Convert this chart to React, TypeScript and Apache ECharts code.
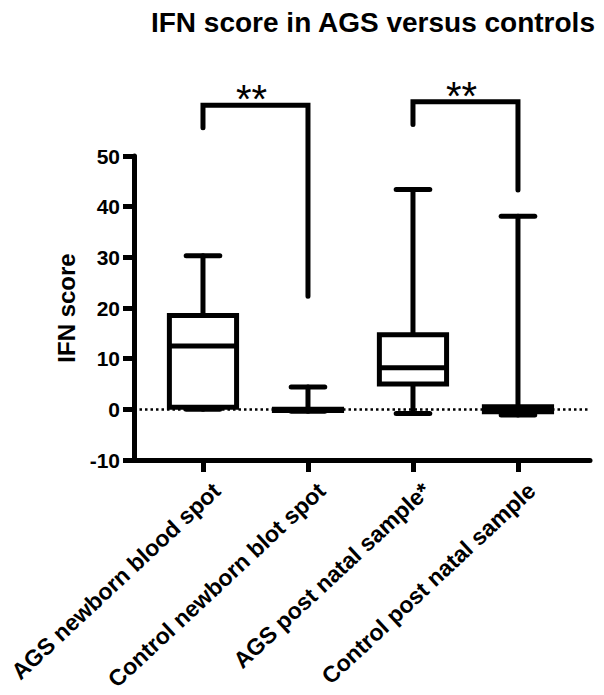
import React, { useEffect, useRef } from "react";
import * as echarts from "echarts";

const categories = [
  "AGS newborn blood spot",
  "Control newborn blot spot",
  "AGS post natal sample*",
  "Control post natal sample",
];
const boxMin = [0, -0.4, -0.8, -1.1];
const boxQ1 = [0.4, -0.25, 5.0, -0.5];
const boxMedian = [12.5, -0.1, 8.2, 0];
const boxQ3 = [18.5, 0, 14.7, 0.5];
const boxMax = [30.3, 4.4, 43.4, 38.1];

const yTicks = [-10, 0, 10, 20, 30, 40, 50];

const bracketFrom = [0, 2];
const bracketTo = [1, 3];
const bracketTop = [60, 60.7];
const bracketLeftEnd = [55.6, 56.2];
const bracketRightEnd = [22.3, 43.3];
const bracketLabel = ["**", "**"];

const FONT = "'Liberation Sans', Arial, sans-serif";
const BOX_W = 0.64;
const CAP_W = 0.32;
const LW = 5;
const LABEL_SHIFT = 0.13;

export default function App() {
  const ref = useRef<HTMLDivElement>(null);
  useEffect(() => {
    if (!ref.current) return;
    const chart = echarts.init(ref.current, null, { renderer: "svg" });
    const boxData = categories.map((_, i) => [
      i,
      boxMin[i],
      boxQ1[i],
      boxMedian[i],
      boxQ3[i],
      boxMax[i],
    ]);
    const bracketData = bracketFrom.map((f, i) => [
      f,
      bracketTo[i],
      bracketTop[i],
      bracketLeftEnd[i],
      bracketRightEnd[i],
    ]);
    const labelValues = categories.map((_, i) => i + LABEL_SHIFT);
    const option: any = {
      animation: false,
      backgroundColor: "#ffffff",
      title: {
        text: "IFN score in AGS versus controls",
        right: 3,
        top: 3,
        textStyle: {
          fontFamily: FONT,
          fontWeight: "bold",
          fontSize: 28,
          color: "#000",
        },
      },
      grid: {
        left: 134,
        right: 14,
        top: 156,
        bottom: 235,
        containLabel: false,
        outerBoundsMode: "none",
      },
      xAxis: {
        type: "value",
        min: -0.657,
        max: 3.686,
        splitLine: { show: false },
        axisLine: { show: true, onZero: false, lineStyle: { color: "#000", width: LW } },
        axisTick: {
          show: true,
          customValues: [0, 1, 2, 3],
          length: 12,
          lineStyle: { color: "#000", width: LW },
        },
        axisLabel: {
          customValues: labelValues,
          formatter: (v: number) => categories[Math.round(v - LABEL_SHIFT)] ?? "",
          rotate: 43,
          margin: 27,
          color: "#000",
          fontFamily: FONT,
          fontWeight: "bold",
          fontSize: 23,
        },
      },
      yAxis: {
        type: "value",
        min: yTicks[0],
        max: yTicks[yTicks.length - 1],
        interval: 10,
        name: "IFN score",
        nameLocation: "middle",
        nameGap: 56,
        nameTextStyle: {
          fontFamily: FONT,
          fontWeight: "bold",
          fontSize: 24,
          color: "#000",
        },
        splitLine: { show: false },
        axisLine: { show: true, onZero: false, lineStyle: { color: "#000", width: LW } },
        axisTick: { show: true, length: 11, lineStyle: { color: "#000", width: LW } },
        axisLabel: {
          margin: 14,
          color: "#000",
          fontFamily: FONT,
          fontWeight: "bold",
          fontSize: 21,
        },
      },
      series: [
        {
          type: "custom",
          clip: false,
          data: boxData,
          markLine: {
            silent: true,
            symbol: "none",
            label: { show: false },
            lineStyle: { color: "#000", width: 2.5, type: [2.5, 3] },
            data: [{ yAxis: 0 }],
          },
          renderItem: (params: any, api: any) => {
            const x = api.value(0);
            const pMin = api.coord([x, api.value(1)]);
            const pQ1 = api.coord([x, api.value(2)]);
            const pMed = api.coord([x, api.value(3)]);
            const pQ3 = api.coord([x, api.value(4)]);
            const pMax = api.coord([x, api.value(5)]);
            const hb = api.size([BOX_W, 0])[0] / 2;
            const hc = api.size([CAP_W, 0])[0] / 2;
            const cx = pMed[0];
            const stroke = { stroke: "#000", lineWidth: LW, fill: null, lineCap: "round" };
            return {
              type: "group",
              children: [
                { type: "line", shape: { x1: cx, y1: pMax[1], x2: cx, y2: pQ3[1] }, style: stroke },
                { type: "line", shape: { x1: cx, y1: pQ1[1], x2: cx, y2: pMin[1] }, style: stroke },
                { type: "line", shape: { x1: cx - hc, y1: pMax[1], x2: cx + hc, y2: pMax[1] }, style: stroke },
                { type: "line", shape: { x1: cx - hc, y1: pMin[1], x2: cx + hc, y2: pMin[1] }, style: stroke },
                {
                  type: "rect",
                  shape: { x: cx - hb, y: pQ3[1], width: hb * 2, height: pQ1[1] - pQ3[1] },
                  style: { stroke: "#000", lineWidth: LW, fill: "#fff", lineJoin: "miter" },
                },
                {
                  type: "line",
                  shape: { x1: cx - hb, y1: pMed[1], x2: cx + hb, y2: pMed[1] },
                  style: { stroke: "#000", lineWidth: LW },
                },
              ],
            };
          },
        },
        {
          type: "custom",
          clip: false,
          data: bracketData,
          renderItem: (params: any, api: any) => {
            const i = params.dataIndex;
            const pL = api.coord([api.value(0), api.value(3)]);
            const pLT = api.coord([api.value(0), api.value(2)]);
            const pRT = api.coord([api.value(1), api.value(2)]);
            const pR = api.coord([api.value(1), api.value(4)]);
            return {
              type: "group",
              children: [
                {
                  type: "polyline",
                  shape: { points: [pL, pLT, pRT, pR] },
                  style: { stroke: "#000", lineWidth: LW, fill: null, lineCap: "round", lineJoin: "miter" },
                },
                {
                  type: "text",
                  x: (pLT[0] + pRT[0]) / 2 - 4,
                  y: pLT[1] + 14,
                  style: {
                    text: bracketLabel[i],
                    fill: "#000",
                    font: `40px ${FONT}`,
                    align: "center",
                    verticalAlign: "bottom",
                  },
                },
              ],
            };
          },
        },
      ],
    };
    chart.setOption(option);
    return () => chart.dispose();
  }, []);
  return (
    <div
      ref={ref}
      style={{ position: "fixed", left: 0, top: 0, width: 604, height: 695 }}
    />
  );
}
